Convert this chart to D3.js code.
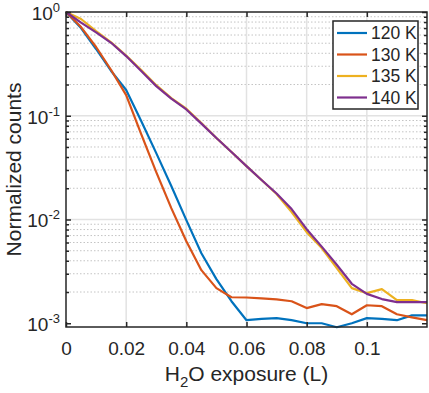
<!DOCTYPE html>
<html>

<head>
    <meta charset=utf-8 />
    <script src="https://cdn.jsdelivr.net/npm/d3@7"></script>
    <title>water exposure</title>
    <style>
        html,
        body {
            margin: 0;
            padding: 0;
            background: #fff;
        }

        svg {
            display: block;
            font-family: "Liberation Sans", Arial, sans-serif;
        }
    </style>
</head>

<body>
    <div id="svg-canvas"></div>
    <script>
        // exposure grid (L)
        var exposure = [0, 0.005, 0.01, 0.015, 0.02, 0.025, 0.03, 0.035, 0.04, 0.045, 0.05, 0.055,
            0.06, 0.065, 0.07, 0.075, 0.08, 0.085, 0.09, 0.095, 0.1, 0.105, 0.11, 0.115, 0.12];

        var k120 = [1.0, 0.70, 0.44, 0.27, 0.177, 0.089, 0.0436, 0.021, 0.00986, 0.00473, 0.00266, 0.00163,
            0.00107, 0.00110, 0.00112, 0.00107, 0.00100, 0.00100, 0.000915, 0.00100, 0.00112, 0.00110, 0.00107, 0.00119, 0.00119];
        var k130 = [1.0, 0.716, 0.46, 0.276, 0.158, 0.0666, 0.0286, 0.01286, 0.00618, 0.00325, 0.00218, 0.00178,
            0.00177, 0.00174, 0.0017, 0.00163, 0.0014, 0.00153, 0.00146, 0.00122, 0.00149, 0.00146, 0.00122, 0.00114, 0.00107];
        var k135 = [1.0, 0.856, 0.655, 0.51, 0.38, 0.276, 0.197, 0.148, 0.117, 0.085, 0.061, 0.0447,
            0.0327, 0.024, 0.0176, 0.0118, 0.00755, 0.0053, 0.0034, 0.00218, 0.00195, 0.00213, 0.00167, 0.00167, 0.00156];
        var k140 = [1.0, 0.79, 0.636, 0.505, 0.376, 0.27, 0.193, 0.146, 0.115, 0.0839, 0.061, 0.0447,
            0.0327, 0.024, 0.0178, 0.0126, 0.00807, 0.00548, 0.00366, 0.0024, 0.00192, 0.00171, 0.0016, 0.0016, 0.0016];

        var seriesNames = ['120 K', '130 K', '135 K', '140 K'];
        var seriesColors = ['#0072BD', '#D95319', '#EDB120', '#7E2F8E'];
        var xTicks = [0, 0.02, 0.04, 0.06, 0.08, 0.1];
        var yDecades = [-3, -2, -1, 0];
    </script>
    <script>
        var W = 429, H = 393;
        var pLeft = 66, pRight = 427, pTop = 12, pBottom = 327;
        var axisColor = '#262626';
        var fontFam = '"Liberation Sans", Arial, sans-serif';

        var svg = d3.select('#svg-canvas').append('svg')
            .attr('width', W)
            .attr('height', H);

        var x = d3.scaleLinear().domain([0, 0.12]).range([pLeft, pRight]);
        var y = d3.scaleLog().domain([0.00092, 1]).range([pBottom, pTop]);

        // minor y values
        var minorY = [];
        yDecades.forEach(function (e) {
            for (var m = 2; m <= 9; m++) {
                var v = m * Math.pow(10, e);
                if (v > 0.00092 && v < 1) minorY.push(v);
            }
        });
        var majorY = yDecades.map(function (e) { return Math.pow(10, e); });

        var grid = svg.append('g');
        grid.selectAll('.minor').data(minorY).enter().append('line')
            .attr('x1', pLeft).attr('x2', pRight)
            .attr('y1', d => y(d)).attr('y2', d => y(d))
            .attr('stroke', '#c4c4c4')
            .attr('stroke-width', 1)
            .attr('stroke-dasharray', '1.5,2');
        grid.selectAll('.majx').data(xTicks.slice(1)).enter().append('line')
            .attr('x1', d => x(d)).attr('x2', d => x(d))
            .attr('y1', pTop).attr('y2', pBottom)
            .attr('stroke', '#e2e2e2')
            .attr('stroke-width', 1.5);
        grid.selectAll('.majy').data(majorY.slice(1, 3)).enter().append('line')
            .attr('x1', pLeft).attr('x2', pRight)
            .attr('y1', d => y(d)).attr('y2', d => y(d))
            .attr('stroke', '#e2e2e2')
            .attr('stroke-width', 1.5);

        // data lines
        var allSeries = [k120, k130, k135, k140];
        var line = d3.line()
            .x((d, i) => x(exposure[i]))
            .y(d => y(d));

        svg.append('g').selectAll('path').data(allSeries).enter().append('path')
            .attr('d', line)
            .attr('fill', 'none')
            .attr('stroke', (d, i) => seriesColors[i])
            .attr('stroke-width', 2.2)
            .attr('stroke-linejoin', 'round');

        // axes
        var fmt = d => String(+d.toFixed(2));
        var axisX = svg.append('g')
            .attr('transform', `translate(0, ${pBottom})`)
            .call(d3.axisBottom(x).tickValues(xTicks).tickSizeInner(-5).tickSizeOuter(0).tickPadding(15).tickFormat(fmt));
        var axisXTop = svg.append('g')
            .attr('transform', `translate(0, ${pTop})`)
            .call(d3.axisTop(x).tickValues(xTicks).tickSizeInner(-5).tickSizeOuter(0).tickFormat(''));

        var axisY = svg.append('g')
            .attr('transform', `translate(${pLeft}, 0)`)
            .call(d3.axisLeft(y).tickValues(majorY).tickSizeInner(-5).tickSizeOuter(0).tickFormat(''));
        var axisYMinor = svg.append('g')
            .attr('transform', `translate(${pLeft}, 0)`)
            .call(d3.axisLeft(y).tickValues(minorY).tickSizeInner(-3).tickSizeOuter(0).tickFormat(''));
        var axisYR = svg.append('g')
            .attr('transform', `translate(${pRight}, 0)`)
            .call(d3.axisRight(y).tickValues(majorY).tickSizeInner(-5).tickSizeOuter(0).tickFormat(''));
        var axisYRMinor = svg.append('g')
            .attr('transform', `translate(${pRight}, 0)`)
            .call(d3.axisRight(y).tickValues(minorY).tickSizeInner(-3).tickSizeOuter(0).tickFormat(''));

        [axisX, axisXTop, axisY, axisYMinor, axisYR, axisYRMinor].forEach(function (a) {
            a.selectAll('.domain').remove();
            a.selectAll('line').attr('stroke', axisColor).attr('stroke-width', 1.5);
            a.selectAll('text').attr('fill', axisColor).attr('font-size', 19)
                .attr('font-family', fontFam);
        });
        // drop the empty label nodes of the unlabeled axes
        [axisXTop, axisY, axisYMinor, axisYR, axisYRMinor].forEach(a => a.selectAll('text').remove());

        // y tick labels with superscripts
        svg.append('g').selectAll('text').data(yDecades).enter().append('text')
            .attr('x', pLeft - 6)
            .attr('y', d => y(Math.pow(10, d)) + 8)
            .attr('text-anchor', 'end')
            .attr('fill', axisColor)
            .attr('font-family', fontFam)
            .attr('font-size', 19)
            .each(function (d) {
                var t = d3.select(this);
                t.append('tspan').text('10');
                t.append('tspan').attr('dy', -8).attr('font-size', 13).text(d);
            });

        // box
        svg.append('rect')
            .attr('x', pLeft).attr('y', pTop)
            .attr('width', pRight - pLeft).attr('height', pBottom - pTop)
            .attr('fill', 'none')
            .attr('stroke', axisColor)
            .attr('stroke-width', 1.5);

        // axis labels
        var xl = svg.append('text')
            .attr('x', (pLeft + pRight) / 2)
            .attr('y', 381)
            .attr('text-anchor', 'middle')
            .attr('fill', axisColor)
            .attr('font-family', fontFam)
            .attr('font-size', 21);
        xl.append('tspan').text('H');
        xl.append('tspan').attr('dy', 6).attr('font-size', 15).text('2');
        xl.append('tspan').attr('dy', -6).text('O exposure (L)');

        svg.append('text')
            .attr('transform', `translate(21, ${(pTop + pBottom) / 2}) rotate(-90)`)
            .attr('text-anchor', 'middle')
            .attr('fill', axisColor)
            .attr('font-family', fontFam)
            .attr('font-size', 21)
            .text('Normalized counts');

        // legend
        var lg = svg.append('g').attr('transform', 'translate(333, 21)');
        lg.append('rect')
            .attr('width', 85).attr('height', 88)
            .attr('fill', '#fff')
            .attr('stroke', axisColor)
            .attr('stroke-width', 1.5);
        var rows = lg.selectAll('.row').data(seriesNames).enter().append('g')
            .attr('transform', (d, i) => `translate(0, ${12 + i * 21.5})`);
        rows.append('line')
            .attr('x1', 4).attr('x2', 34)
            .attr('stroke', (d, i) => seriesColors[i])
            .attr('stroke-width', 2.2);
        rows.append('text')
            .attr('x', 38).attr('y', 6)
            .attr('fill', axisColor)
            .attr('font-family', fontFam)
            .attr('font-size', 17.5)
            .text(d => d);
    </script>
</body>

</html>
